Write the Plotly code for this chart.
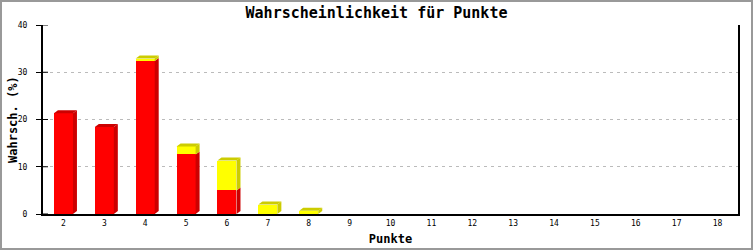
import plotly.graph_objects as go

categories = ["2", "3", "4", "5", "6", "7", "8", "9", "10", "11", "12", "13", "14", "15", "16", "17", "18"]
red_values = [21.3, 18.4, 32.4, 12.6, 5.0, 0, 0, 0, 0, 0, 0, 0, 0, 0, 0, 0, 0]
yellow_values = [0, 0, 0.5, 1.7, 6.3, 2.0, 0.7, 0, 0, 0, 0, 0, 0, 0, 0, 0, 0]
y_ticks = [0, 10, 20, 30, 40]

W, H = 753, 250
L, R, T, B = 43, 15, 25, 36
pw, ph = W - L - R, H - T - B
n = len(categories)
px_per_cat = pw / n
px_per_unit = ph / 40.0
bw = 0.465
dx = 4 / px_per_cat
dy = 3 / px_per_unit

RED, RED_D = "#FF0000", "#CC0000"
YEL, YEL_D = "#FFFF00", "#CCCC00"

fig = go.Figure()
xs = list(range(n))
fig.add_trace(go.Bar(x=xs, y=red_values, width=bw, marker=dict(color=RED, line=dict(width=0)), hoverinfo="skip"))
fig.add_trace(go.Bar(x=xs, y=yellow_values, width=bw, marker=dict(color=YEL, line=dict(width=0)), hoverinfo="skip"))


def poly(px, py, color):
    fig.add_trace(go.Scatter(x=px + [px[0]], y=py + [py[0]], mode="lines", fill="toself",
                             fillcolor=color, line=dict(width=0, color=color), hoverinfo="skip"))


for i in range(n):
    x0, x1 = i - bw / 2, i + bw / 2
    base = 0.0
    segs = [(red_values[i], RED_D), (yellow_values[i], YEL_D)]
    nonzero = [k for k, (v, c) in enumerate(segs) if v > 0]
    for k, (v, c) in enumerate(segs):
        if v <= 0:
            continue
        top = base + v
        # side face
        poly([x1, x1, x1 + dx, x1 + dx], [base, top, top + dy, base + dy], c)
        # top face (only for topmost segment)
        if k == nonzero[-1]:
            poly([x0, x0 + dx, x1 + dx, x1], [top, top + dy, top + dy, top], c)
        base = top

shapes = []
# outer frame
def xp(p):
    return (p - L) / pw
def yp(p):
    return (H - B - p) / ph
shapes.append(dict(type="rect", xref="paper", yref="paper", x0=xp(1), x1=xp(752), y0=yp(249), y1=yp(1),
                   line=dict(color="#999999", width=2), layer="above"))
# inner tick parts
for t in y_ticks:
    shapes.append(dict(type="line", xref="paper", yref="y", x0=0, x1=5 / pw, y0=t, y1=t,
                       line=dict(color="black", width=1)))

fig.update_layout(
    width=W, height=H,
    margin=dict(l=L, r=R, t=T, b=B, autoexpand=False),
    paper_bgcolor="white", plot_bgcolor="white",
    barmode="stack", bargap=0,
    showlegend=False,
    shapes=shapes,
    annotations=[dict(text="<b>Wahrsch. (%)</b>", xref="paper", yref="paper", x=xp(12.5), y=0.5,
                      xanchor="center", yanchor="middle", textangle=-90, showarrow=False,
                      font=dict(family="DejaVu Sans Mono", size=12, color="black"))],
    title=dict(text="<b>Wahrscheinlichkeit für Punkte</b>", x=0.5, xref="container", xanchor="center",
               y=1 - 13 / H, yref="container", yanchor="middle", automargin=False,
               font=dict(family="DejaVu Sans Mono", size=15, color="black")),
    xaxis=dict(range=[-0.5, n - 0.5], tickvals=xs, ticktext=categories, showgrid=False, zeroline=False,
               automargin=False,
               showline=True, linecolor="black", linewidth=2, ticks="",
               tickfont=dict(family="DejaVu Sans Mono", size=8, color="black"),
               title=dict(text="<b>Punkte</b>", font=dict(family="DejaVu Sans Mono", size=12, color="black"),
                          standoff=8)),
    yaxis=dict(range=[0, 40], tickvals=y_ticks, showgrid=True, gridcolor="#BBBBBB", griddash="3px,4px",
               gridwidth=1, zeroline=False, showline=True, linecolor="black", linewidth=2, mirror=True,
               automargin=False,
               ticks="outside", ticklen=5, tickwidth=1, tickcolor="black", ticklabelstandoff=7,
               tickfont=dict(family="DejaVu Sans Mono", size=8, color="black")),
)

fig.write_html("out.html")
